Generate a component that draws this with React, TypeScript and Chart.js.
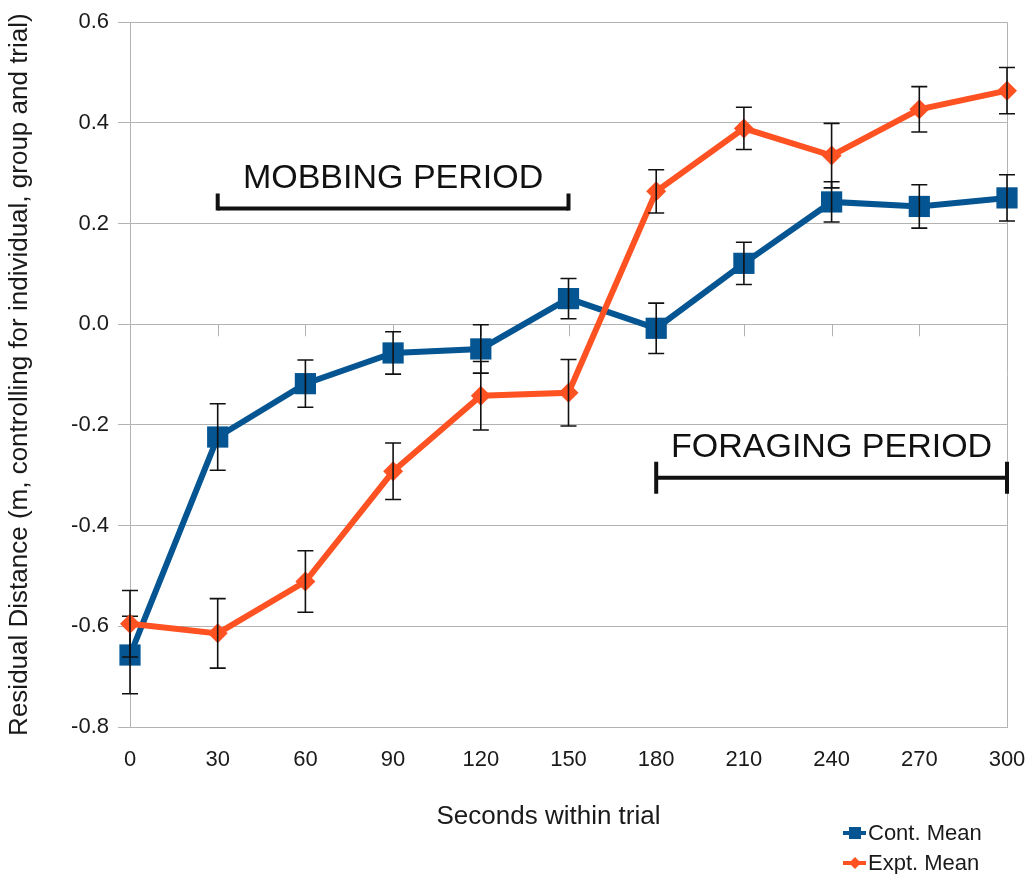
import React, { useEffect, useRef } from 'react';
import { Chart, registerables } from 'chart.js';

Chart.register(...registerables);

// ---- data ----
const seconds = [0, 30, 60, 90, 120, 150, 180, 210, 240, 270, 300];
const contMean = [-0.657, -0.224, -0.118, -0.057, -0.049, 0.051, -0.008, 0.121, 0.243, 0.234, 0.251];
const contErr = [0.077, 0.066, 0.047, 0.042, 0.048, 0.04, 0.05, 0.042, 0.04, 0.043, 0.046];
const exptMean = [-0.595, -0.614, -0.511, -0.292, -0.142, -0.136, 0.264, 0.389, 0.335, 0.427, 0.464];
const exptErr = [0.066, 0.069, 0.061, 0.056, 0.068, 0.066, 0.043, 0.042, 0.064, 0.045, 0.046];
const seriesLabels = ['Cont. Mean', 'Expt. Mean'];

const periodLabels = ['MOBBING PERIOD', 'FORAGING PERIOD'];
const periodStart = [30, 180];
const periodEnd = [150, 300];
const periodLevel = [0.23, -0.305];
const periodLabelLevel = [0.289, -0.246];

const xTitle = 'Seconds within trial';
const yTitle = 'Residual Distance (m, controlling for individual, group and trial)';

// ---- styles ----
const FONT = "'Liberation Sans', Arial, Helvetica, sans-serif";
const BLUE = '#045592';
const ORANGE = '#ff5222';
const GRID = '#b3b3b3';
const TEXT = '#1a1a1a';

const errorBarPlugin = {
  id: 'errorBars',
  afterDatasetDraw(chart: any, args: any) {
    const ds = chart.data.datasets[args.index];
    const errs: number[] = ds.errors;
    if (!errs) return;
    const { ctx, scales } = chart;
    ctx.save();
    ctx.strokeStyle = '#111';
    ctx.lineWidth = 1.6;
    ds.data.forEach((p: any, i: number) => {
      const x = scales.x.getPixelForValue(p.x);
      const yt = scales.y.getPixelForValue(p.y + errs[i]);
      const yb = scales.y.getPixelForValue(p.y - errs[i]);
      ctx.beginPath();
      ctx.moveTo(x, yt);
      ctx.lineTo(x, yb);
      ctx.moveTo(x - 8, yt);
      ctx.lineTo(x + 8, yt);
      ctx.moveTo(x - 8, yb);
      ctx.lineTo(x + 8, yb);
      ctx.stroke();
    });
    ctx.restore();
  },
};

const decorPlugin = {
  id: 'decor',
  beforeDatasetsDraw(chart: any) {
    const { ctx, scales } = chart;
    // tick marks on the zero line
    const y0 = scales.y.getPixelForValue(0);
    ctx.save();
    ctx.strokeStyle = GRID;
    ctx.lineWidth = 1;
    seconds.forEach((s) => {
      const x = Math.round(scales.x.getPixelForValue(s)) + 0.5;
      ctx.beginPath();
      ctx.moveTo(x, y0);
      ctx.lineTo(x, y0 + 12);
      ctx.stroke();
    });
    ctx.restore();
  },
  afterDraw(chart: any) {
    const { ctx, scales, chartArea } = chart;
    ctx.save();
    // period brackets
    ctx.strokeStyle = '#111';
    ctx.fillStyle = '#111';
    periodLabels.forEach((label, i) => {
      const x1 = scales.x.getPixelForValue(periodStart[i]);
      const x2 = scales.x.getPixelForValue(periodEnd[i]);
      const y = scales.y.getPixelForValue(periodLevel[i]);
      const capUp = i === 0 ? 15 : 16;
      const capDown = i === 0 ? 2 : 16;
      ctx.lineWidth = 4;
      ctx.beginPath();
      ctx.moveTo(x1, y);
      ctx.lineTo(x2, y);
      ctx.stroke();
      ctx.beginPath();
      ctx.moveTo(x1, y - capUp);
      ctx.lineTo(x1, y + capDown);
      ctx.moveTo(x2, y - capUp);
      ctx.lineTo(x2, y + capDown);
      ctx.stroke();
      ctx.font = `34px ${FONT}`;
      ctx.textAlign = 'center';
      ctx.textBaseline = 'middle';
      const tx = scales.x.getPixelForValue((periodStart[i] + periodEnd[i]) / 2);
      ctx.fillText(label, tx, scales.y.getPixelForValue(periodLabelLevel[i]));
    });

    // x axis title
    ctx.fillStyle = TEXT;
    ctx.font = `26px ${FONT}`;
    ctx.textAlign = 'center';
    ctx.textBaseline = 'middle';
    ctx.fillText(xTitle, (chartArea.left + chartArea.right) / 2 - 20, 817);

    // legend
    const ds = chart.data.datasets;
    const rowsY = [833, 863];
    ds.forEach((d: any, i: number) => {
      const y = rowsY[i];
      ctx.strokeStyle = d.borderColor;
      ctx.fillStyle = d.borderColor;
      ctx.lineWidth = 4;
      ctx.beginPath();
      ctx.moveTo(843, y);
      ctx.lineTo(866, y);
      ctx.stroke();
      if (d.pointStyle === 'rect') {
        ctx.fillRect(849, y - 6, 12, 12);
      } else {
        ctx.beginPath();
        ctx.moveTo(855, y - 6);
        ctx.lineTo(861, y);
        ctx.lineTo(855, y + 6);
        ctx.lineTo(849, y);
        ctx.closePath();
        ctx.fill();
      }
      ctx.fillStyle = TEXT;
      ctx.font = `22px ${FONT}`;
      ctx.textAlign = 'left';
      ctx.textBaseline = 'middle';
      ctx.fillText(d.label, 868, y + 1);
    });
    ctx.restore();
  },
};

export default function App() {
  const ref = useRef<HTMLCanvasElement | null>(null);

  useEffect(() => {
    if (!ref.current) return;
    const chart = new Chart(ref.current, {
      type: 'line',
      data: {
        datasets: [
          {
            label: seriesLabels[0],
            data: seconds.map((s, i) => ({ x: s, y: contMean[i] })),
            errors: contErr,
            borderColor: BLUE,
            backgroundColor: BLUE,
            borderWidth: 6,
            pointStyle: 'rect',
            pointRadius: 15,
            pointBorderWidth: 0,
            clip: false,
            order: 1,
          } as any,
          {
            label: seriesLabels[1],
            data: seconds.map((s, i) => ({ x: s, y: exptMean[i] })),
            errors: exptErr,
            borderColor: ORANGE,
            backgroundColor: ORANGE,
            borderWidth: 6,
            pointStyle: 'rectRot',
            pointRadius: 10,
            pointBorderWidth: 0,
            clip: false,
            order: 0,
          } as any,
        ],
      },
      options: {
        responsive: false,
        animation: false,
        devicePixelRatio: 1,
        layout: { padding: { top: 20, right: 24, bottom: 0, left: 0 } },
        plugins: {
          legend: { display: false },
          tooltip: { enabled: false },
        },
        scales: {
          x: {
            type: 'linear',
            min: 0,
            max: 300,
            ticks: {
              stepSize: 30,
              color: TEXT,
              font: { family: FONT, size: 22 },
              padding: 0,
            },
            grid: {
              drawTicks: true,
              tickLength: 20,
              tickColor: 'rgba(0,0,0,0)',
              color: (c: any) =>
                c.tick && (c.tick.value === 0 || c.tick.value === 300) ? GRID : 'rgba(0,0,0,0)',
            },
            border: { display: true, color: GRID },
            afterFit: (s: any) => {
              s.height = 147;
            },
          },
          y: {
            type: 'linear',
            min: -0.8,
            max: 0.6,
            ticks: {
              stepSize: 0.2,
              color: TEXT,
              font: { family: FONT, size: 22 },
              padding: 9,
              callback: (v: any) => (Math.abs(Number(v)) < 1e-9 ? '0.0' : Number(v).toFixed(1)),
            },
            grid: { color: GRID, tickLength: 12 },
            border: { display: true, color: GRID },
            title: {
              display: true,
              text: yTitle,
              color: TEXT,
              font: { family: FONT, size: 26 },
              padding: { top: 4, bottom: 0 },
            },
            afterFit: (s: any) => {
              s.width = 130;
            },
          },
        },
      } as any,
      plugins: [errorBarPlugin, decorPlugin],
    });
    return () => chart.destroy();
  }, []);

  return (
    <div style={{ position: 'absolute', left: 0, top: 0, width: 1031, height: 874, background: '#fff' }}>
      <canvas ref={ref} width={1031} height={874} />
    </div>
  );
}
